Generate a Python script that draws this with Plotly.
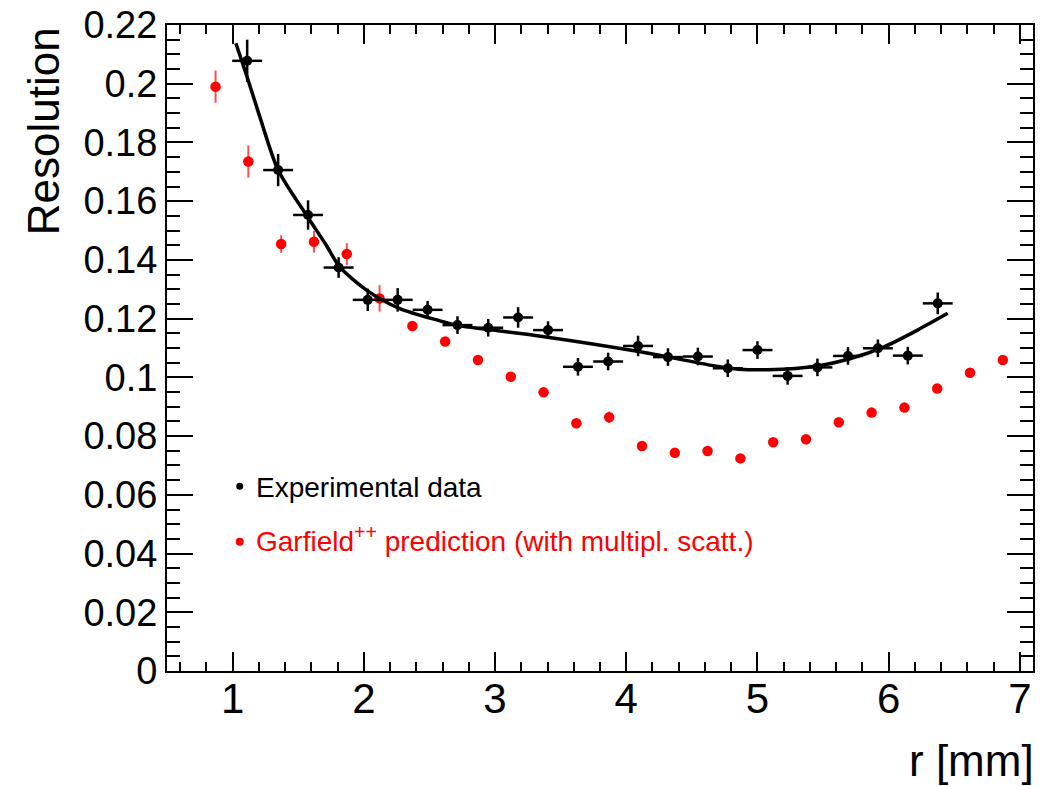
import plotly.graph_objects as go

# Experimental data (black)
exp_r = [1.111, 1.347, 1.575, 1.808, 2.030, 2.258, 2.486, 2.714, 2.948, 3.176, 3.404, 3.632,
         3.862, 4.090, 4.318, 4.546, 4.774, 5.000, 5.230, 5.457, 5.690, 5.918, 6.146, 6.374]
exp_res = [0.2078, 0.1706, 0.1553, 0.1374, 0.1264, 0.1264, 0.1230, 0.1178, 0.1169, 0.1204, 0.1161, 0.1036,
           0.1054, 0.1107, 0.1069, 0.1071, 0.1031, 0.1093, 0.1005, 0.1034, 0.1073, 0.1099, 0.1074, 0.1252]
exp_err = [0.0072, 0.0055, 0.0050, 0.0035, 0.0038, 0.0040, 0.0030, 0.0030, 0.0030, 0.0035, 0.0030, 0.0030,
           0.0030, 0.0035, 0.0030, 0.0030, 0.0030, 0.0030, 0.0030, 0.0030, 0.0030, 0.0030, 0.0030, 0.0037]
exp_rerr = [0.114] * len(exp_r)

# Fit curve (black line)
fit_r = [1.025, 1.11, 1.207, 1.347, 1.562, 1.714, 1.815, 2.018, 2.27, 2.575, 2.70, 3.335,
         4.095, 4.70, 4.855, 5.08, 5.46, 5.716, 5.97, 6.22, 6.45]
fit_res = [0.2138, 0.2024, 0.1888, 0.1706, 0.1553, 0.1450, 0.1377, 0.1298, 0.1235, 0.1193, 0.1178, 0.1141,
           0.1088, 0.1037, 0.1028, 0.1026, 0.1039, 0.1065, 0.1105, 0.1161, 0.1218]

# Garfield++ prediction (red)
sim_r = [0.87, 1.12, 1.37, 1.62, 1.87, 2.12, 2.37, 2.62, 2.87, 3.12, 3.37, 3.62, 3.87,
         4.12, 4.37, 4.62, 4.87, 5.12, 5.37, 5.62, 5.87, 6.12, 6.37, 6.62, 6.87]
sim_res = [0.1990, 0.1735, 0.1454, 0.1462, 0.1420, 0.1269, 0.1175, 0.1122, 0.1059, 0.1002, 0.0949, 0.0844, 0.0864,
           0.0766, 0.0743, 0.0749, 0.0724, 0.0779, 0.0789, 0.0847, 0.0880, 0.0897, 0.0962, 0.1016, 0.1059]
sim_err = [0.0055, 0.0055, 0.0030, 0.0037, 0.0037, 0.0045, 0.0015, 0.0015, 0.0015, 0.0015, 0.0015, 0.0015, 0.0020,
           0.0015, 0.0015, 0.0015, 0.0015, 0.0015, 0.0015, 0.0015, 0.0015, 0.0015, 0.0015, 0.0015, 0.0015]

FONT = "Liberation Sans, Arial, Helvetica, sans-serif"

fig = go.Figure()

fig.add_trace(go.Scatter(
    x=sim_r, y=sim_res, mode="markers",
    marker=dict(color="#ff0000", size=10.5),
    error_y=dict(type="data", array=sim_err, color="rgba(255,0,0,0.7)", thickness=2, width=0),
    showlegend=False))

fig.add_trace(go.Scatter(
    x=fit_r, y=fit_res, mode="lines", line=dict(color="black", width=3.5, shape="spline", smoothing=0.8),
    showlegend=False))

fig.add_trace(go.Scatter(
    x=exp_r, y=exp_res, mode="markers",
    marker=dict(color="black", size=10),
    error_y=dict(type="data", array=exp_err, color="black", thickness=2.5, width=0),
    error_x=dict(type="data", array=exp_rerr, color="black", thickness=2.5, width=0),
    showlegend=False))

fig.update_layout(
    width=1045, height=786,
    margin=dict(l=167, r=12, t=25, b=115, autoexpand=False),
    paper_bgcolor="white", plot_bgcolor="white",
    font=dict(family=FONT, color="black"),
    xaxis=dict(range=[0.5, 7.1], dtick=1, tick0=0, showgrid=False, zeroline=False, automargin=False,
               showline=True, linecolor="black", linewidth=2, mirror="ticks",
               ticks="inside", ticklen=19, tickwidth=1.5, tickcolor="black",
               minor=dict(ticks="inside", ticklen=9, tickwidth=1.5, tickcolor="black", dtick=0.2, tick0=0),
               tickfont=dict(size=42, family=FONT), ticklabelstandoff=-10),
    yaxis=dict(range=[0, 0.22], dtick=0.02, tick0=0, showgrid=False, zeroline=False, automargin=False,
               showline=True, linecolor="black", linewidth=2, mirror="ticks",
               ticks="inside", ticklen=26, tickwidth=1.5, tickcolor="black",
               minor=dict(ticks="inside", ticklen=13, tickwidth=1.5, tickcolor="black", dtick=0.005, tick0=0),
               tickfont=dict(size=38, family=FONT)),
)

annotations = [
    dict(text="Resolution", textangle=-90, xref="paper", yref="paper",
         x=-0.143, y=1.0, xanchor="center", yanchor="top", showarrow=False,
         font=dict(size=44, family=FONT, color="black")),
    dict(text="r [mm]", xref="paper", yref="paper",
         x=1.004, y=-0.138, xanchor="right", yanchor="middle", showarrow=False,
         font=dict(size=44, family=FONT, color="black")),
    dict(text="Experimental data", xref="paper", yref="paper",
         x=0.1005, y=0.2848, xanchor="left", yanchor="middle", showarrow=False,
         font=dict(size=28, family=FONT, color="black")),
    dict(text="Garfield<sup>++</sup> prediction (with multipl. scatt.)", xref="paper", yref="paper",
         x=0.1005, y=0.2043, xanchor="left", yanchor="middle", showarrow=False,
         font=dict(size=28, family=FONT, color="#ff0000")),
]
fig.update_layout(annotations=annotations)

shapes = [
    dict(type="circle", xref="paper", yref="paper", xsizemode="pixel", ysizemode="pixel",
         xanchor=0.084, yanchor=0.286, x0=-3.5, x1=3.5, y0=-3.5, y1=3.5,
         fillcolor="black", line=dict(width=0)),
    dict(type="circle", xref="paper", yref="paper", xsizemode="pixel", ysizemode="pixel",
         xanchor=0.084, yanchor=0.200, x0=-4, x1=4, y0=-4, y1=4,
         fillcolor="#ff0000", line=dict(width=0)),
]
fig.update_layout(shapes=shapes)

fig.write_html("out.html")
